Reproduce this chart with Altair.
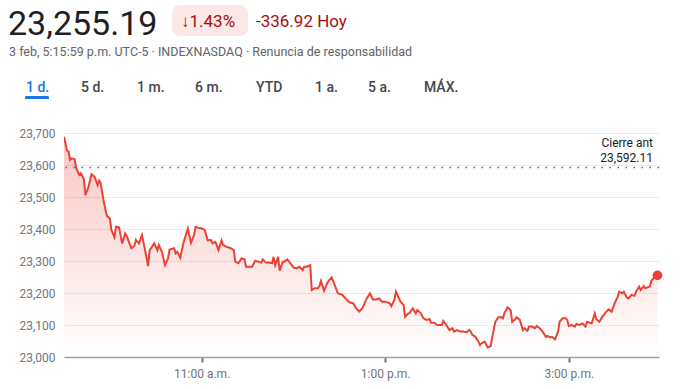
import altair as alt
import pandas as pd

# ---------------- data ----------------
MINUTES = [0, 2, 3, 4, 5, 7, 8, 10, 11, 13, 14, 16, 18, 20, 22, 23, 24, 26, 28, 30,
           31, 33, 34, 36, 38, 40, 41, 44, 46, 47, 49, 51, 53, 55, 56, 59, 61, 62, 64, 66,
           68, 69, 72, 73, 74, 76, 78, 79, 81, 83, 85, 86, 89, 90, 92, 94, 96, 97, 99, 101,
           103, 104, 106, 109, 111, 112, 114, 116, 118, 119, 122, 123, 125, 127, 129, 130, 132, 134, 136, 137,
           138, 140, 141, 143, 144, 146, 148, 150, 152, 154, 156, 157, 159, 161, 162, 164, 166, 167, 168, 170,
           172, 173, 175, 177, 179, 182, 184, 185, 187, 189, 191, 193, 195, 197, 198, 200, 202, 204, 206, 208,
           210, 213, 214, 216, 217, 218, 220, 222, 223, 225, 226, 228, 230, 231, 233, 235, 237, 239, 240, 242,
           244, 247, 248, 250, 252, 254, 255, 257, 259, 261, 263, 265, 266, 267, 269, 271, 272, 273, 275, 277,
           279, 280, 282, 284, 286, 287, 288, 290, 292, 293, 295, 296, 298, 300, 301, 303, 304, 306, 308, 309,
           311, 313, 315, 316, 318, 319, 321, 323, 324, 326, 328, 329, 330, 332, 334, 335, 337, 339, 341, 342,
           345, 347, 348, 350, 352, 354, 356, 358, 360, 362, 363, 365, 366, 368, 369, 371, 373, 374, 376, 377,
           379, 380, 383, 384, 386, 388]
PRICES = [23688, 23645, 23642, 23616, 23621, 23618, 23590, 23569, 23574, 23555, 23506, 23532, 23571, 23563, 23537, 23551, 23543, 23485, 23441, 23433,
          23397, 23374, 23407, 23405, 23355, 23386, 23378, 23340, 23347, 23366, 23355, 23381, 23334, 23284, 23334, 23355, 23334, 23350, 23329, 23287,
          23308, 23336, 23340, 23324, 23329, 23310, 23355, 23371, 23401, 23357, 23381, 23407, 23402, 23402, 23397, 23364, 23366, 23355, 23360, 23334,
          23364, 23350, 23345, 23340, 23334, 23298, 23293, 23308, 23305, 23282, 23282, 23282, 23301, 23298, 23295, 23305, 23295, 23295, 23293, 23313,
          23287, 23313, 23270, 23298, 23298, 23305, 23293, 23280, 23277, 23282, 23272, 23282, 23282, 23287, 23209, 23215, 23215, 23222, 23238, 23207,
          23230, 23238, 23249, 23225, 23199, 23194, 23183, 23178, 23170, 23168, 23152, 23142, 23152, 23173, 23183, 23199, 23180, 23180, 23183, 23173,
          23173, 23168, 23159, 23178, 23204, 23194, 23173, 23163, 23126, 23136, 23138, 23152, 23136, 23147, 23138, 23121, 23116, 23118, 23107, 23107,
          23100, 23100, 23113, 23100, 23084, 23090, 23079, 23084, 23080, 23080, 23077, 23085, 23079, 23069, 23063, 23048, 23037, 23043, 23048, 23030,
          23034, 23063, 23110, 23124, 23124, 23121, 23138, 23155, 23147, 23110, 23118, 23124, 23116, 23084, 23090, 23082, 23095, 23095, 23090, 23097,
          23090, 23079, 23063, 23066, 23061, 23063, 23055, 23079, 23110, 23121, 23121, 23116, 23097, 23100, 23095, 23103, 23100, 23105, 23095, 23110,
          23105, 23136, 23118, 23110, 23126, 23138, 23149, 23142, 23168, 23188, 23204, 23199, 23204, 23186, 23183, 23194, 23191, 23204, 23220, 23209,
          23222, 23215, 23220, 23238, 23249, 23255.19]

PREV_CLOSE = 23592.11
LAST_PRICE = 23255.19
Y_TICKS = [23000, 23100, 23200, 23300, 23400, 23500, 23600, 23700]
X_TICK_MINUTES = [90, 210, 330]
X_TICK_LABELS = ["11:00 a.m.", "1:00 p.m.", "3:00 p.m."]
TABS = ["1 d.", "5 d.", "1 m.", "6 m.", "YTD", "1 a.", "5 a.", "MÁX."]
SUBTITLE = "3 feb, 5:15:59 p.m. UTC-5 · INDEXNASDAQ · Renuncia de responsabilidad"

# ---------------- layout / style ----------------
RED = "#ea4335"
DARK_RED = "#a50e0e"
FONT = "Roboto"
TAB_X = [-38, 17, 73, 131, 192, 251, 304, 360]   # left edges relative to plot origin

df = pd.DataFrame({"m": MINUTES, "p": PRICES})
change = LAST_PRICE - PREV_CLOSE
pct = abs(change) / PREV_CLOSE * 100

label_expr = ""
for mm, lab in zip(X_TICK_MINUTES, X_TICK_LABELS):
    label_expr += f"datum.value == {mm} ? '{lab}' : "
label_expr += "''"

x_scale = alt.Scale(domain=[0, 389], nice=False, zero=False)
y_scale = alt.Scale(domain=[23000, 23700], nice=False, zero=False)

x_enc = alt.X("m:Q", scale=x_scale,
              axis=alt.Axis(values=X_TICK_MINUTES, labelExpr=label_expr, grid=False,
                            domainColor="#9aa0a6", domainWidth=1.5,
                            tickColor="#70757a", tickSize=5, tickWidth=2,
                            labelColor="#70757a", labelFont=FONT, labelFontSize=12,
                            labelPadding=6, title=None))
y_enc = alt.Y("p:Q", scale=y_scale,
              axis=alt.Axis(values=Y_TICKS, format=",.0f", domain=False, ticks=False,
                            gridColor="#ebebeb", gridWidth=1,
                            labelColor="#70757a", labelFont=FONT, labelFontSize=12,
                            labelPadding=9, title=None))

base = alt.Chart(df)

area = base.mark_area(
    clip=True,
    color=alt.Gradient(
        gradient="linear",
        stops=[alt.GradientStop(color="rgba(234,67,53,0.30)", offset=0),
               alt.GradientStop(color="rgba(234,67,53,0.0)", offset=1)],
        x1=1, x2=1, y1=0, y2=1),
).encode(x=x_enc, y=y_enc, y2=alt.datum(23000))

line = base.mark_line(color=RED, strokeWidth=2, clip=True).encode(x=x_enc, y=y_enc)

prev_df = pd.DataFrame({"p": [PREV_CLOSE], "t": [f"Cierre ant\n{PREV_CLOSE:,.2f}"]})
prev_rule = alt.Chart(prev_df).mark_rule(color="#5f6368", strokeDash=[1.5, 6.5],
                                         strokeWidth=1.5).encode(y=y_enc)
prev_text = alt.Chart(prev_df).mark_text(align="right", baseline="alphabetic", font=FONT,
                                         fontSize=12, color="#202124", lineBreak="\n",
                                         lineHeight=15).encode(
    x=alt.value(589), y=alt.value(14), text="t:N")

last_pt = alt.Chart(df.tail(1)).mark_circle(color=RED, size=95, opacity=1).encode(x=x_enc, y=y_enc)

one = pd.DataFrame({"a": [0]})

big = alt.Chart(pd.DataFrame({"t": [f"{LAST_PRICE:,.2f}"]})).mark_text(
    align="left", baseline="alphabetic", font=FONT, fontSize=34, color="#1f1f1f").encode(
    x=alt.value(-56), y=alt.value(-98), text="t:N")

badge = alt.Chart(one).mark_rect(color="#fce8e6", cornerRadius=8).encode(
    x=alt.value(108), x2=alt.value(184), y=alt.value(-128), y2=alt.value(-97))

pct_text = alt.Chart(pd.DataFrame({"t": [f"↓{pct:.2f}%"]})).mark_text(
    align="left", baseline="alphabetic", font=FONT, fontSize=17, color=DARK_RED).encode(
    x=alt.value(117), y=alt.value(-106), text="t:N")

chg_text = alt.Chart(pd.DataFrame({"t": [f"{change:.2f} Hoy"]})).mark_text(
    align="left", baseline="alphabetic", font=FONT, fontSize=17, color=DARK_RED).encode(
    x=alt.value(192), y=alt.value(-106), text="t:N")

sub_text = alt.Chart(pd.DataFrame({"t": [SUBTITLE]})).mark_text(
    align="left", baseline="alphabetic", font=FONT, fontSize=12.5, color="#5f6368").encode(
    x=alt.value(-55), y=alt.value(-77), text="t:N")

tab_layers = []
for i, (tab, tx) in enumerate(zip(TABS, TAB_X)):
    tab_layers.append(
        alt.Chart(pd.DataFrame({"t": [tab]})).mark_text(
            align="left", baseline="alphabetic", font=FONT, fontSize=14, fontWeight=500,
            color="#1a73e8" if i == 0 else "#444746").encode(
            x=alt.value(tx), y=alt.value(-41), text="t:N"))

underline = alt.Chart(one).mark_rect(color="#1a73e8", cornerRadiusTopLeft=2,
                                     cornerRadiusTopRight=2).encode(
    x=alt.value(-39), x2=alt.value(-15), y=alt.value(-37), y2=alt.value(-34))

chart = alt.layer(
    area, prev_rule, line, last_pt, prev_text,
    big, badge, pct_text, chg_text, sub_text, underline, *tab_layers
).properties(
    width=595, height=224,
    autosize=alt.AutoSizeParams(type="none"),
    padding={"left": 64, "top": 133, "right": 32, "bottom": 32},
    background="white",
).configure_view(stroke=None)

chart.save("out.html", embed_options={"renderer": "svg", "actions": False})
